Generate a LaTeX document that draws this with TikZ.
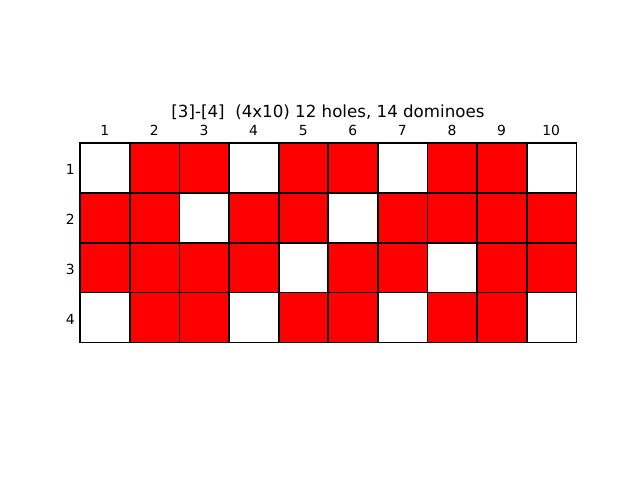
\documentclass[tikz,border=0pt]{standalone}
\usepackage{fontspec}
\setmainfont{DejaVu Sans}
\begin{document}
\begin{tikzpicture}[
			x = 0.72pt, % one pixel of the 640x480 image
			y = -0.72pt, % y runs downwards
			cell/.style = {minimum width = 35.7pt, minimum height = 35.8pt, inner sep = 0pt, anchor = north west},
			edge/.style = {draw = black, line width = 1pt},
			tick/.style = {font = \fontsize{10}{12}\selectfont, inner sep = 0pt},
			heading/.style = {font = \fontsize{12}{14}\selectfont, inner sep = 0pt}
			]
			
			\useasboundingbox (0,0) rectangle (640,480);
			
			% the board, row by row
			\foreach \row [count=\r] in {
				{white,red,red,white,red,red,white,red,red,white},
				{red,red,white,red,red,white,red,red,red,red},
				{red,red,red,red,white,red,red,white,red,red},
				{white,red,red,white,red,red,white,red,red,white}}
			{
				\node[tick, anchor=base east] (row\r) at (75, {143+(\r-0.5)*49.75+7}) {\r};
				\foreach \col [count=\c] in \row
					\node[cell, fill=\col] (sq\r-\c) at ({80+(\c-1)*49.6}, {143+(\r-1)*49.75}) {};
			}
			
			% borders on top of all fills
			\foreach \r in {1,...,4}
				\foreach \c in {1,...,10}
					\draw[edge] (sq\r-\c.north west) rectangle (sq\r-\c.south east);
			
			% column numbers
			\foreach \c in {1,...,10}
				\node[tick, anchor=base] (col\c) at ({80+(\c-0.5)*49.6}, 135) {\c};
			
			\node[heading, anchor=base] (title) at (328, 117) {[3]-[4]\ \ (4x10) 12 holes, 14 dominoes};
			
		\end{tikzpicture}
\end{document}
